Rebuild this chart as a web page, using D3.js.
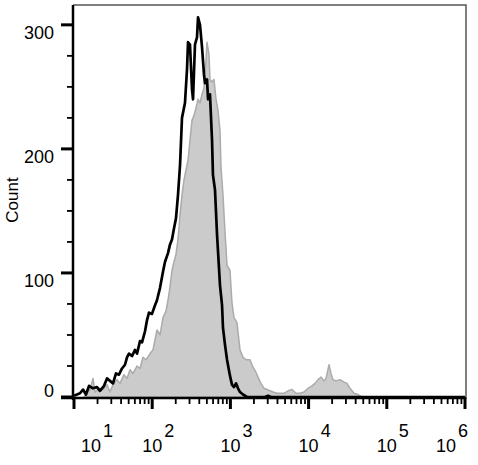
<!DOCTYPE html>
<html><head><meta charset="utf-8">
<script src="https://cdn.jsdelivr.net/npm/d3@7"></script>
<style>html,body{margin:0;padding:0;background:#fff;}svg{display:block;}</style>
</head><body>
<svg id="c" width="478" height="465"></svg>
<script>
// ---- data (log10 fluorescence, count) ----
const blackLogFL = [1.000,1.038,1.077,1.115,1.153,1.192,1.243,1.294,1.332,1.384,1.422,1.460,1.499,1.537,1.575,1.614,1.652,1.678,1.703,1.742,1.780,1.806,1.844,1.870,1.908,1.934,1.959,1.997,2.036,2.061,2.100,2.138,2.164,2.202,2.228,2.253,2.279,2.304,2.330,2.356,2.381,2.419,2.445,2.458,2.483,2.509,2.522,2.547,2.573,2.586,2.611,2.637,2.662,2.675,2.701,2.714,2.739,2.765,2.777,2.803,2.829,2.867,2.893,2.905,2.931,2.957,2.995,3.020,3.046,3.072,3.097,3.123,3.161,3.212,3.442,3.481,3.519,6.000];
const blackCount = [1,2,3,6,2,9,7,8,5,9,15,13,11,19,18,23,26,32,35,33,38,35,45,44,53,62,68,67,74,78,88,101,109,116,123,127,136,144,163,187,225,237,264,286,284,248,240,284,290,306,300,282,260,253,256,240,244,207,179,167,131,90,74,56,42,30,17,10,8,11,7,4,2,0,0,1,0,0];

const grayLogFL = [1.128,1.166,1.205,1.243,1.269,1.320,1.371,1.422,1.460,1.499,1.550,1.588,1.639,1.678,1.716,1.754,1.806,1.844,1.882,1.921,1.972,2.010,2.061,2.100,2.138,2.176,2.202,2.228,2.253,2.279,2.304,2.330,2.356,2.381,2.407,2.432,2.458,2.483,2.509,2.535,2.560,2.586,2.611,2.637,2.662,2.688,2.701,2.726,2.739,2.765,2.790,2.816,2.841,2.867,2.880,2.905,2.931,2.957,2.995,3.020,3.046,3.084,3.123,3.161,3.199,3.251,3.289,3.327,3.353,3.391,3.430,3.468,3.506,3.545,3.596,3.634,3.685,3.737,3.788,3.839,3.890,3.941,3.992,4.043,4.082,4.120,4.159,4.197,4.223,4.261,4.286,4.312,4.350,4.402,4.453,4.491,4.529,4.581,4.632,4.683,6.000];
const grayCount = [0,3,6,15,4,7,6,10,4,10,14,11,18,15,22,19,25,23,32,30,35,38,54,50,64,69,78,89,102,109,115,127,147,163,175,183,191,207,223,227,233,240,237,244,249,272,286,276,256,254,256,240,231,215,185,163,133,106,102,76,64,60,38,32,30,30,24,20,16,11,7,6,5,4,3,3,3,5,6,3,3,4,7,9,11,14,16,13,15,26,19,14,13,14,12,11,7,3,2,0,0];

const xTickExp = [1,2,3,4,5,6];
const yMajorTicks = [0,100,200,300];
const yLabel = "Count";

// ---- layout ----
const svg = d3.select("#c");
const pL = 73, pR = 466, pT = 5, pB = 397;
const x = d3.scaleLog().domain([10, 1e6]).range([74, 465]);
const y = d3.scaleLinear().domain([0, 316]).range([pB, pT]);

const grayPts = grayLogFL.map((e,i)=>[10**e, grayCount[i]]);
const blackPts = blackLogFL.map((e,i)=>[10**e, blackCount[i]]);

// frame (top/right)
svg.append("path")
  .attr("d", `M${pL},${pT}H${pR}V${pB+2}`)
  .attr("fill","none").attr("stroke","#555").attr("stroke-width",1.5);

// gray filled histogram
svg.append("path").datum(grayPts)
  .attr("d", d3.area().x(d=>x(d[0])).y0(y(0)).y1(d=>y(d[1])))
  .attr("fill","#cbcbcb").attr("stroke","#ababab").attr("stroke-width",1.5)
  .attr("stroke-linejoin","round");

// black line histogram
svg.append("path").datum(blackPts)
  .attr("d", d3.line().x(d=>x(d[0])).y(d=>y(d[1])))
  .attr("fill","none").attr("stroke","#000").attr("stroke-width",2.7)
  .attr("stroke-linejoin","round");

// y axis
svg.append("line").attr("x1",pL).attr("x2",pL).attr("y1",pT).attr("y2",pB+3)
  .attr("stroke","#000").attr("stroke-width",2.5);
const yMinor = d3.range(0, 301, 25).filter(v=>!yMajorTicks.includes(v));
svg.selectAll(".ymin").data(yMinor).enter().append("line")
  .attr("x1",pL-6).attr("x2",pL).attr("y1",d=>y(d)).attr("y2",d=>y(d))
  .attr("stroke","#000").attr("stroke-width",1.8);
svg.selectAll(".ymaj").data(yMajorTicks).enter().append("line")
  .attr("x1",pL-12).attr("x2",pL).attr("y1",d=>y(d)).attr("y2",d=>y(d))
  .attr("stroke","#000").attr("stroke-width",3);
svg.selectAll(".ylab").data(yMajorTicks).enter().append("text")
  .attr("x",54).attr("y",d=> d===0 ? y(d) : y(d)+14)
  .attr("text-anchor","end")
  .attr("font-family","Liberation Sans, Arial, sans-serif").attr("font-size",18)
  .text(d=>d);
svg.append("text")
  .attr("transform",`translate(18,200) rotate(-90)`)
  .attr("text-anchor","middle")
  .attr("font-family","Liberation Sans, Arial, sans-serif").attr("font-size",17)
  .text(yLabel);

// x axis
svg.append("line").attr("x1",pL-12).attr("x2",pR).attr("y1",pB+1).attr("y2",pB+1)
  .attr("stroke","#000").attr("stroke-width",2.5);
const xMinor = [];
for (let p=1;p<6;p++) for (let m=2;m<=9;m++) xMinor.push(m*10**p);
svg.selectAll(".xmin").data(xMinor).enter().append("line")
  .attr("x1",d=>x(d)).attr("x2",d=>x(d)).attr("y1",pB+1).attr("y2",pB+7)
  .attr("stroke","#000").attr("stroke-width",1.8);
svg.selectAll(".xmaj").data(xTickExp).enter().append("line")
  .attr("x1",d=>x(10**d)).attr("x2",d=>x(10**d)).attr("y1",pB+1).attr("y2",pB+12)
  .attr("stroke","#000").attr("stroke-width",3);
const labShift = {1:17, 6:-19};
const xl = svg.selectAll(".xlab").data(xTickExp).enter().append("text")
  .attr("x",d=>x(10**d)+(labShift[d]||0)-10).attr("y",452)
  .attr("font-family","Liberation Sans, Arial, sans-serif").attr("font-size",18);
xl.append("tspan").text("10");
xl.append("tspan").attr("dx",2).attr("dy",-15).text(d=>d);
</script>
</body></html>
